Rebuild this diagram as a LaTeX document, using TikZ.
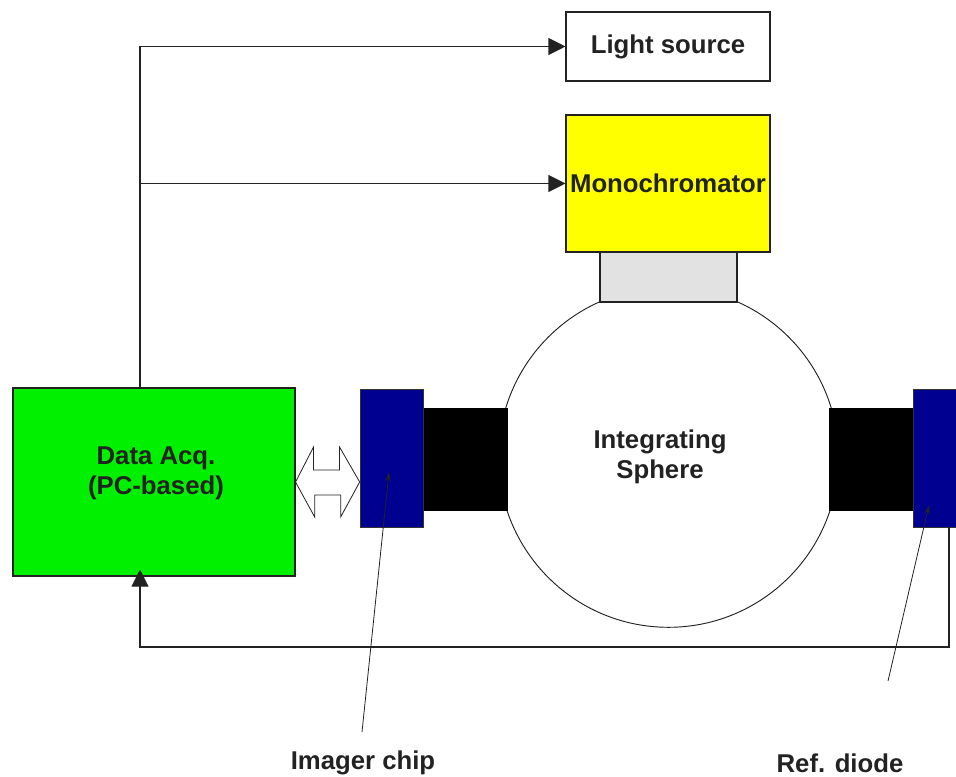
\documentclass[tikz,border=0pt]{standalone}
\usepackage{fontspec}
\setmainfont{Liberation Sans}
\usetikzlibrary{arrows.meta,calc}
\definecolor{accgreen}{HTML}{00F000}
\definecolor{monoyel}{HTML}{FFFF00}
\definecolor{adaptgray}{HTML}{E2E2E2}
\definecolor{chipblue}{HTML}{000090}
\definecolor{inkgray}{HTML}{222222}
\tikzset{
  box/.style={draw=inkgray,line width=0.8pt,inner sep=0pt,rectangle},
  lbl/.style={font=\fontsize{19.3}{22.5}\selectfont\bfseries,text=inkgray,align=center,inner sep=0pt},
  wire/.style={draw=inkgray,line width=0.8pt},
  arr/.style={wire,-{Triangle[length=12.75pt,width=12.75pt]}},
  ptr/.style={draw=inkgray,line width=0.6pt,-{Stealth[length=7pt,width=4pt]}},
  blk/.style={rectangle,inner sep=0pt,fill=black,draw=black,line width=0.5pt},
  chip/.style={rectangle,inner sep=0pt,fill=chipblue,draw=black!80,line width=0.5pt}
}
\begin{document}
\begin{tikzpicture}[x=0.75pt,y=-0.75pt]
\path[use as bounding box] (0,0) rectangle (956,777);
\begin{scope}
\clip (0,0) rectangle (956,777);
% boxes
\node[box,fill=white,minimum width=153pt,minimum height=51.75pt] (light) at (668,46.5) {};
\node[lbl] (lighttxt) at (668,46.5) {Light source};
\node[box,fill=monoyel,minimum width=153pt,minimum height=102.75pt] (mono) at (668,183.5) {};
\node[lbl] (monotxt) at (668,183.5) {Monochromator};
% sphere
\node[circle,draw=inkgray,line width=0.7pt,fill=white,minimum size=255pt,inner sep=0pt] (sphere) at (668.5,457.3) {};
\node[lbl] (spheretxt) at (660,457) {Integrating\\Sphere};
\node[box,fill=adaptgray,minimum width=102.75pt,minimum height=37.5pt] (adapt) at (668.5,277) {};
% ports and chips
\node[blk,minimum width=63.75pt,minimum height=76.5pt] (blackL) at (464.5,459) {};
\node[blk,minimum width=63pt,minimum height=76.5pt] (blackR) at (871,459) {};
\node[chip,minimum width=47.25pt,minimum height=103.5pt] (blueL) at (391.5,458) {};
\node[chip,minimum width=47.25pt,minimum height=103.5pt] (blueR) at (944.5,458) {};
% data acquisition
\node[box,fill=accgreen,minimum width=211.5pt,minimum height=141pt] (green) at (154,482) {};
\node[lbl] (greentxt) at (156,473) {Data Acq.\\(PC-based)};
% double arrow between green and imager chip
\draw[draw=inkgray,line width=0.6pt,fill=white]
  ($(green.east)+(0,0)$) -- ++(18,-35) -- ++(0,23) -- ++(26,0) -- ++(0,-23)
  -- ($(blueL.west)+(0,24)$) -- ++(-19,35) -- ++(0,-22) -- ++(-26,0) -- ++(0,22) -- cycle;
% bus lines
\coordinate (bx) at (140,0);
\draw[arr] (green.north -| bx) |- (light.west);
\draw[arr] (bx |- mono.west) -- (mono.west);
% feedback line
\coordinate (fb) at (949,647);
\draw[arr] (blueR.south -| fb) -- (fb) -| ($(green.south -| bx)+(0,-7)$);
\end{scope}
% pointer labels
\node[lbl] (imglbl) at (363,763) {Imager chip};
\node[lbl] (reflbl) at (840,763) {Ref. diode};
\coordinate (ia) at (362,732);
\coordinate (ib) at (389,472);
\coordinate (ra) at (888,681);
\coordinate (rb) at (929,505);
\draw[ptr] (ia) -- (ib);
\draw[ptr] (ra) -- (rb);
\end{tikzpicture}
\end{document}
